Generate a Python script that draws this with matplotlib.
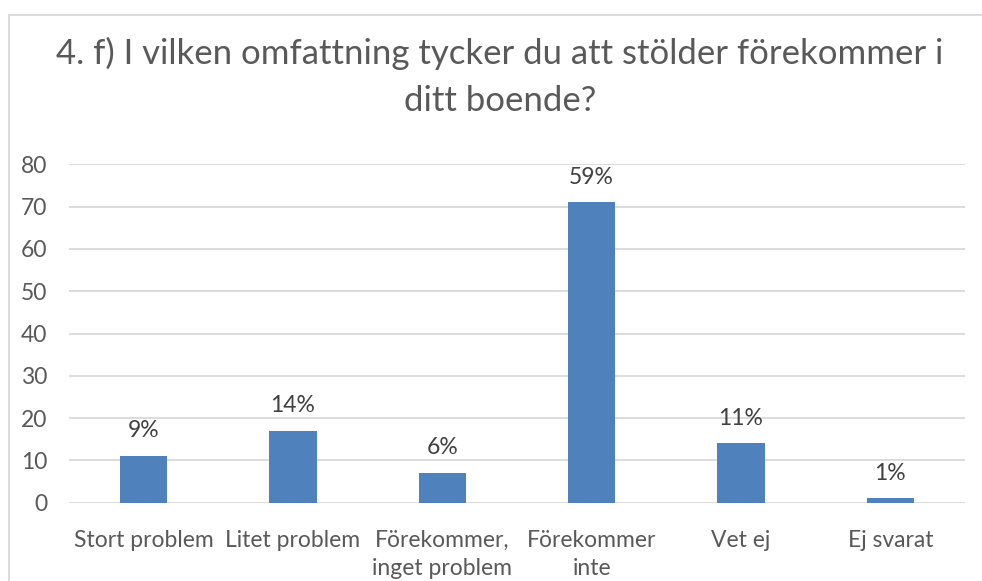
import matplotlib
matplotlib.use("Agg")
import matplotlib.pyplot as plt
from matplotlib.patches import Rectangle

# ---------------- DATA ----------------
kategorier = ["Stort problem", "Litet problem", "Förekommer,\ninget problem",
              "Förekommer\ninte", "Vet ej", "Ej svarat"]
antal = [11, 17, 7, 71, 14, 1]
procent = ["9%", "14%", "6%", "59%", "11%", "1%"]
yticks = [0, 10, 20, 30, 40, 50, 60, 70, 80]

titel_rad1 = "4. f) I vilken omfattning tycker du att stölder förekommer i"
titel_rad2 = "ditt boende?"

# ---------------- STIL ----------------
plt.rcParams["font.family"] = ["Lato", "DejaVu Sans"]
textfarg = "#595959"
stapelfarg = "#4f81bd"
rutnat = "#d9d9d9"
fs = 16.5

fig = plt.figure(figsize=(9.82, 5.81), dpi=100)

# ram runt diagrammet
fig.patches.append(Rectangle((9 / 982, -0.05), 1.1, 1 - 15 / 581 + 0.05,
                             transform=fig.transFigure, fill=False,
                             edgecolor="#d9d9d9", linewidth=1.3))

ax = fig.add_axes([69 / 982, 1 - 502.7 / 581, (965 - 69) / 982, (502.7 - 164.3) / 581])

x = range(len(kategorier))
staplar = ax.bar(x, antal, width=0.315, color=stapelfarg, zorder=3)

for rect, lbl in zip(staplar, procent):
    ax.annotate(lbl, (rect.get_x() + rect.get_width() / 2, rect.get_height()),
                xytext=(0, 13.5), textcoords="offset points",
                ha="center", va="baseline", fontsize=fs, color="#404040")

ax.set_ylim(0, 80)
ax.set_xlim(-0.5, len(kategorier) - 0.5)
ax.set_yticks(yticks)
ax.set_xticks(list(x))
ax.set_xticklabels(kategorier)
ax.yaxis.grid(True, color=rutnat, linewidth=1.3, zorder=0)
ax.set_axisbelow(True)

for s in ax.spines.values():
    s.set_visible(False)

ax.tick_params(axis="both", length=0, colors=textfarg, labelsize=fs)
ax.tick_params(axis="y", pad=15.5)
ax.tick_params(axis="x", pad=19.5)
for t in ax.get_xticklabels():
    t.set_linespacing(1.4)

fig.text(500 / 982, 1 - 64 / 581, titel_rad1, ha="center", va="baseline",
         fontsize=25, color=textfarg)
fig.text(500 / 982, 1 - 111 / 581, titel_rad2, ha="center", va="baseline",
         fontsize=25, color=textfarg)

fig.savefig("out.png", dpi=100)
plt.close(fig)
